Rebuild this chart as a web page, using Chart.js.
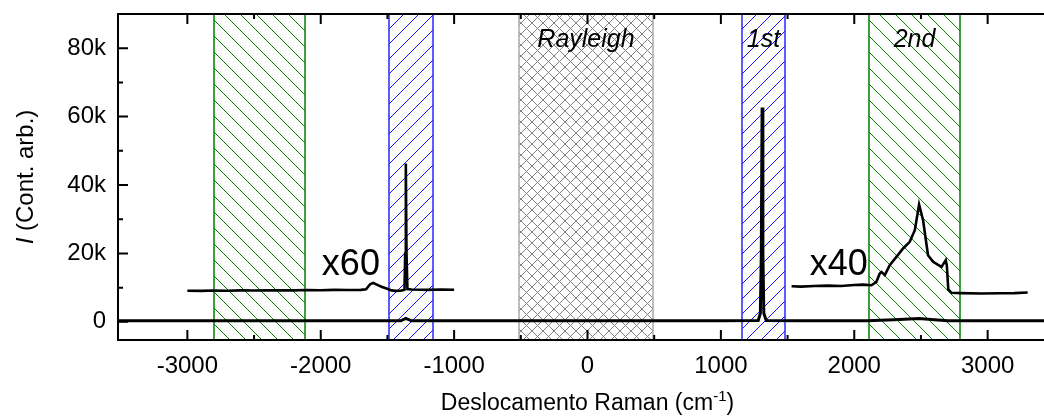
<!DOCTYPE html>
<html>
<head>
<meta charset="utf-8">
<title>Raman</title>
<script src="https://cdn.jsdelivr.net/npm/chart.js@4.4.1/dist/chart.umd.min.js"></script>
<style>
    html, body { margin: 0; padding: 0; background: #fff; overflow: hidden; }
    #wrap { width: 1060px; height: 418px; position: relative; }
</style>
</head>
<body>
<div id="wrap"><canvas id="raman"></canvas></div>
<script>
// axis ranges and ticks
const xMin = -3520, xMax = 3520;
const yMin = -5300, yMax = 90000;
const xTicks = [-3000, -2500, -2000, -1500, -1000, -500, 0, 500, 1000, 1500, 2000, 2500, 3000];
const yTicks = [0, 10000, 20000, 30000, 40000, 50000, 60000, 70000, 80000];

// shaded regions
const regionStart = [-2800, -1490, -510, 1155, 2110];
const regionEnd   = [-2117, -1160, 490, 1480, 2795];
const regionKind  = ['green', 'blue', 'gray', 'blue', 'green'];
const regionLabel = ['', '', 'Rayleigh', '1st', '2nd'];

// full spectrum (x1)
const mainX = [-3520, -3000, -2000, -1400, -1362, -1320, -500, 0, 500, 1000, 1280, 1296, 1303, 1309, 1315, 1322, 1340, 1600, 2100, 2300, 2486, 2600, 2700, 3000, 3520];
const mainY = [300, 300, 300, 300, 1000, 300, 300, 300, 300, 300, 400, 2500, 20000, 62700, 20000, 2500, 400, 300, 350, 650, 950, 600, 300, 300, 300];

// anti-Stokes, multiplied by 60
const x60X = [-3000, -2900, -2800, -2700, -2600, -2500, -2400, -2300, -2200, -2100, -2000, -1900, -1800, -1700, -1660, -1630, -1607, -1580, -1540, -1507, -1470, -1440, -1400, -1372, -1367, -1362, -1357, -1350, -1320, -1250, -1200, -1100, -1000];
const x60Y = [9100, 9050, 9150, 9100, 9200, 9150, 9200, 9250, 9200, 9300, 9250, 9350, 9300, 9350, 9500, 11000, 11400, 10900, 10200, 9760, 9200, 9050, 9100, 9400, 20000, 46300, 20000, 9600, 9470, 9400, 9350, 9450, 9400];

// second order, multiplied by 40
const x40X = [1530, 1600, 1700, 1800, 1900, 2000, 2070, 2129, 2166, 2191, 2204, 2229, 2266, 2316, 2366, 2416, 2454, 2486, 2516, 2553, 2591, 2654, 2686, 2694, 2705, 2729, 2800, 2950, 3100, 3200, 3300];
const x40Y = [10400, 10300, 10500, 10600, 10500, 10800, 10900, 10700, 11700, 14150, 14600, 13650, 16580, 19000, 21460, 23400, 26800, 34300, 29700, 19500, 17540, 16080, 18040, 16500, 9500, 8500, 8400, 8300, 8350, 8400, 8600];

// multiplier labels
const factorText = ['x60', 'x40'];
const factorX = [-1774, 1884];
const factorY = [13650, 13650];

const FONT = '"Liberation Sans", Arial, Helvetica, sans-serif';

function toPoints(xs, ys) {
    return xs.map((x, i) => ({ x: x, y: ys[i] }));
}

const hatchColor = { green: 'rgb(0,135,0)', blue: 'rgb(20,20,255)', gray: 'rgb(130,130,130)' };
const borderColor = { green: 'rgb(0,128,0)', blue: 'rgb(40,40,255)', gray: 'rgb(170,170,170)' };

const regionsPlugin = {
    id: 'regions',
    beforeDatasetsDraw(chart) {
        const ctx = chart.ctx;
        const area = chart.chartArea;
        const xs = chart.scales.x;
        const top = Math.round(area.top), bottom = Math.round(area.bottom);
        const h = bottom - top;
        regionStart.forEach((lo, i) => {
            const left = Math.round(xs.getPixelForValue(lo));
            const right = Math.round(xs.getPixelForValue(regionEnd[i]));
            const kind = regionKind[i];
            ctx.save();
            ctx.beginPath();
            ctx.rect(left, top, right - left, h);
            ctx.clip();
            ctx.strokeStyle = hatchColor[kind];
            ctx.lineWidth = 1;
            ctx.beginPath();
            const step = kind === 'gray' ? 11 : (kind === 'blue' ? 15 : 16);
            for (let k = left - h; k < right + h; k += step) {
                if (kind === 'green' || kind === 'gray') {
                    ctx.moveTo(k, top);
                    ctx.lineTo(k + h, bottom);
                }
                if (kind === 'blue' || kind === 'gray') {
                    ctx.moveTo(k, bottom);
                    ctx.lineTo(k + h, top);
                }
            }
            ctx.stroke();
            ctx.restore();

            ctx.save();
            ctx.strokeStyle = borderColor[kind];
            ctx.lineWidth = 1.5;
            ctx.strokeRect(left, top, right - left, h);
            ctx.restore();

            if (regionLabel[i]) {
                ctx.save();
                ctx.font = 'italic 25px ' + FONT;
                ctx.fillStyle = '#000';
                ctx.textAlign = 'center';
                ctx.textBaseline = 'alphabetic';
                ctx.fillText(regionLabel[i], (left + right) / 2, top + 33);
                ctx.restore();
            }
        });
    },
    afterDraw(chart) {
        const ctx = chart.ctx;
        const area = chart.chartArea;
        const xs = chart.scales.x;
        const ys = chart.scales.y;

        ctx.save();
        ctx.strokeStyle = '#000';
        ctx.lineWidth = 2;
        ctx.lineCap = 'butt';
        // frame
        ctx.beginPath();
        ctx.moveTo(area.right, area.top);
        ctx.lineTo(area.left, area.top);
        ctx.lineTo(area.left, area.bottom);
        ctx.lineTo(area.right, area.bottom);
        ctx.stroke();

        // inward ticks
        ctx.beginPath();
        xTicks.forEach(v => {
            const px = xs.getPixelForValue(v);
            const len = v % 1000 === 0 ? 10 : 5;
            ctx.moveTo(px, area.bottom);
            ctx.lineTo(px, area.bottom - len);
            ctx.moveTo(px, area.top);
            ctx.lineTo(px, area.top + len);
        });
        yTicks.forEach(v => {
            const py = ys.getPixelForValue(v);
            const len = v % 20000 === 0 ? 10 : 5;
            ctx.moveTo(area.left, py);
            ctx.lineTo(area.left + len, py);
        });
        ctx.stroke();

        // multiplier labels
        ctx.fillStyle = '#000';
        ctx.font = '36px ' + FONT;
        ctx.textAlign = 'center';
        ctx.textBaseline = 'alphabetic';
        factorText.forEach((t, i) => {
            ctx.fillText(t, xs.getPixelForValue(factorX[i]), ys.getPixelForValue(factorY[i]));
        });

        // x axis title with superscript
        const cx = (area.left + area.right) / 2;
        const base = 410;
        const p1 = 'Deslocamento Raman (cm', p2 = '-1', p3 = ')';
        ctx.font = '23px ' + FONT;
        const w1 = ctx.measureText(p1).width, w3 = ctx.measureText(p3).width;
        ctx.font = '15px ' + FONT;
        const w2 = ctx.measureText(p2).width;
        let sx = cx - (w1 + w2 + w3) / 2;
        ctx.textAlign = 'left';
        ctx.font = '23px ' + FONT;
        ctx.fillText(p1, sx, base);
        ctx.font = '15px ' + FONT;
        ctx.fillText(p2, sx + w1, base - 9);
        ctx.font = '23px ' + FONT;
        ctx.fillText(p3, sx + w1 + w2, base);

        // y axis title, italic I
        ctx.translate(26, (area.top + area.bottom) / 2);
        ctx.rotate(-Math.PI / 2);
        ctx.textBaseline = 'middle';
        const q1 = 'I', q2 = ' (Cont. arb.)';
        ctx.font = 'italic 24px ' + FONT;
        const v1 = ctx.measureText(q1).width;
        ctx.font = '24px ' + FONT;
        const v2 = ctx.measureText(q2).width;
        const sy = -(v1 + v2) / 2;
        ctx.font = 'italic 24px ' + FONT;
        ctx.fillText(q1, sy, 0);
        ctx.font = '24px ' + FONT;
        ctx.fillText(q2, sy + v1, 0);
        ctx.restore();
    }
};

const lineStyle = {
    showLine: true,
    borderColor: '#000',
    borderWidth: 2.6,
    pointRadius: 0,
    tension: 0,
    fill: false
};

new Chart(document.getElementById('raman'), {
    type: 'scatter',
    data: {
        datasets: [
            Object.assign({ label: 'x1', data: toPoints(mainX, mainY) }, lineStyle, { borderWidth: 3 }),
            Object.assign({ label: 'x60', data: toPoints(x60X, x60Y) }, lineStyle),
            Object.assign({ label: 'x40', data: toPoints(x40X, x40Y) }, lineStyle)
        ]
    },
    options: {
        responsive: true,
        maintainAspectRatio: false,
        devicePixelRatio: 1,
        animation: false,
        layout: { padding: { top: 14, right: 3, left: 0, bottom: 0 } },
        plugins: {
            legend: { display: false },
            tooltip: { enabled: false }
        },
        scales: {
            x: {
                type: 'linear',
                min: xMin,
                max: xMax,
                afterBuildTicks: scale => { scale.ticks = xTicks.map(v => ({ value: v })); },
                afterFit: scale => { scale.height = 78; scale.paddingLeft = 0; scale.paddingRight = 0; },
                grid: { display: false, drawTicks: false },
                border: { display: false },
                ticks: {
                    autoSkip: false,
                    maxRotation: 0,
                    padding: 12,
                    color: '#000',
                    font: { family: FONT, size: 24 },
                    callback: v => (v % 1000 === 0 ? String(v) : '')
                }
            },
            y: {
                type: 'linear',
                min: yMin,
                max: yMax,
                afterBuildTicks: scale => { scale.ticks = yTicks.map(v => ({ value: v })); },
                afterFit: scale => { scale.width = 118; scale.paddingTop = 0; scale.paddingBottom = 0; },
                grid: { display: false, drawTicks: false },
                border: { display: false },
                ticks: {
                    autoSkip: false,
                    padding: 12,
                    color: '#000',
                    font: { family: FONT, size: 24 },
                    callback: v => (v % 20000 === 0 ? (v === 0 ? '0' : (v / 1000) + 'k') : '')
                }
            }
        }
    },
    plugins: [regionsPlugin]
});
</script>
</body>
</html>
